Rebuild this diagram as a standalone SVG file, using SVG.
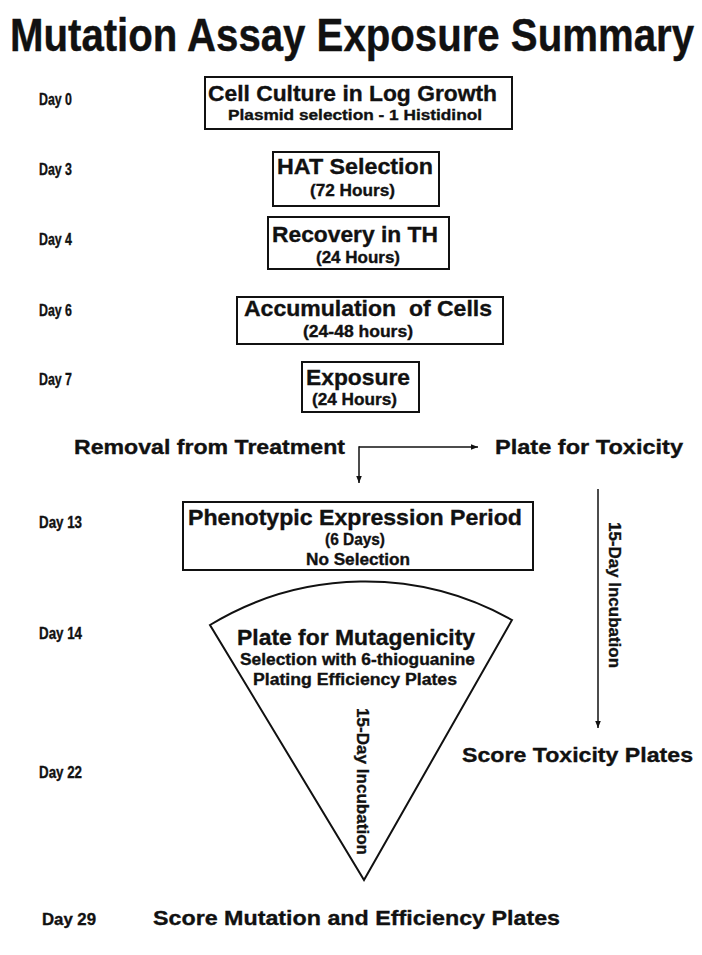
<svg xmlns="http://www.w3.org/2000/svg" width="702" height="955" viewBox="0 0 702 955" font-family="'Liberation Sans', Arial, sans-serif">
<defs>
<style>
text{font-family:"Liberation Sans",Arial,sans-serif;font-weight:bold;fill:#111;stroke:#111;stroke-width:0.35}
.box{fill:none;stroke:#111;stroke-width:2}
.ln{fill:none;stroke:#111;stroke-width:1.5}
.day{font-size:16px}
.h1{font-size:22px}
.h2{font-size:16px}
.big{font-size:21px}
</style>
<marker id="ah" viewBox="0 0 10 10" refX="10" refY="5" markerWidth="7" markerHeight="7" markerUnits="userSpaceOnUse" orient="auto">
<path d="M0,1 L10,5 L0,9 Z" fill="#111"/>
</marker>
</defs>
<rect width="702" height="955" fill="#fff"/>
<text transform="translate(10,51) scale(1,1.15)" x="0" y="0" font-size="40" textLength="684" lengthAdjust="spacingAndGlyphs">Mutation Assay Exposure Summary</text>

<g id="days">
<text class="day" x="39" y="105" textLength="33" lengthAdjust="spacingAndGlyphs">Day 0</text>
<text class="day" x="39" y="175" textLength="33" lengthAdjust="spacingAndGlyphs">Day 3</text>
<text class="day" x="39" y="245" textLength="33" lengthAdjust="spacingAndGlyphs">Day 4</text>
<text class="day" x="39" y="316" textLength="33" lengthAdjust="spacingAndGlyphs">Day 6</text>
<text class="day" x="39" y="385" textLength="33" lengthAdjust="spacingAndGlyphs">Day 7</text>
<text class="day" x="39" y="528" textLength="43" lengthAdjust="spacingAndGlyphs">Day 13</text>
<text class="day" x="39" y="639" textLength="43" lengthAdjust="spacingAndGlyphs">Day 14</text>
<text class="day" x="39" y="778" textLength="43" lengthAdjust="spacingAndGlyphs">Day 22</text>
<text class="day" x="42" y="925" textLength="54" lengthAdjust="spacingAndGlyphs">Day 29</text>
</g>

<g id="n-culture">
<rect class="box" x="205" y="77" width="307" height="52"/>
<text class="h1" x="208" y="101" textLength="289" lengthAdjust="spacingAndGlyphs">Cell Culture in Log Growth</text>
<text class="h2" x="228" y="120" font-size="15" style="font-size:15px" textLength="254" lengthAdjust="spacingAndGlyphs">Plasmid selection - 1 Histidinol</text>
</g>

<g id="n-hat">
<rect class="box" x="273" y="152" width="166" height="54"/>
<text class="h1" x="277" y="174" textLength="156" lengthAdjust="spacingAndGlyphs">HAT Selection</text>
<text class="h2" x="310" y="196" textLength="85" lengthAdjust="spacingAndGlyphs">(72 Hours)</text>
</g>

<g id="n-recovery">
<rect class="box" x="268" y="217" width="181" height="52"/>
<text class="h1" x="272" y="242" textLength="166" lengthAdjust="spacingAndGlyphs">Recovery in TH</text>
<text class="h2" x="316" y="263" textLength="84" lengthAdjust="spacingAndGlyphs">(24 Hours)</text>
</g>

<g id="n-accum">
<rect class="box" x="237" y="297" width="266" height="47"/>
<text class="h1" x="244" y="316" textLength="248" lengthAdjust="spacingAndGlyphs" xml:space="preserve">Accumulation  of Cells</text>
<text class="h2" x="303" y="337" textLength="110" lengthAdjust="spacingAndGlyphs">(24-48 hours)</text>
</g>

<g id="n-exposure">
<rect class="box" x="302" y="362" width="117" height="50"/>
<text class="h1" x="306" y="385" textLength="104" lengthAdjust="spacingAndGlyphs">Exposure</text>
<text class="h2" x="312" y="405" textLength="85" lengthAdjust="spacingAndGlyphs">(24 Hours)</text>
</g>

<g id="n-removal">
<text class="big" x="74" y="454" textLength="271" lengthAdjust="spacingAndGlyphs">Removal from Treatment</text>
</g>

<g id="n-platetox">
<text class="big" x="495" y="454" textLength="188" lengthAdjust="spacingAndGlyphs">Plate for Toxicity</text>
</g>

<g id="n-pheno">
<rect class="box" x="183" y="502" width="350" height="68"/>
<text class="h1" x="188" y="525" textLength="334" lengthAdjust="spacingAndGlyphs">Phenotypic Expression Period</text>
<text class="h2" x="325" y="545" textLength="60" lengthAdjust="spacingAndGlyphs">(6 Days)</text>
<text class="h2" x="306" y="565" textLength="104" lengthAdjust="spacingAndGlyphs">No Selection</text>
</g>

<g id="n-mutagenicity">
<path class="box" d="M210,625 A299,299 0 0 1 512,620 L364,880 Z"/>
<text class="h1" x="237" y="645" textLength="238" lengthAdjust="spacingAndGlyphs">Plate for Mutagenicity</text>
<text class="h2" x="240" y="665" textLength="235" lengthAdjust="spacingAndGlyphs">Selection with 6-thioguanine</text>
<text class="h2" x="253" y="685" textLength="204" lengthAdjust="spacingAndGlyphs">Plating Efficiency Plates</text>
<text transform="translate(357,708) rotate(90)" x="0" y="0" font-size="17" textLength="147" lengthAdjust="spacingAndGlyphs">15-Day Incubation</text>
</g>

<g id="n-scoretox">
<text class="big" x="462" y="762" textLength="231" lengthAdjust="spacingAndGlyphs">Score Toxicity Plates</text>
</g>

<g id="n-scoremut">
<text class="big" x="153" y="925" textLength="407" lengthAdjust="spacingAndGlyphs">Score Mutation and Efficiency Plates</text>
</g>

<g id="connectors">
<path class="ln" d="M359,447 L478,447" marker-end="url(#ah)"/>
<path class="ln" d="M359,446.25 L359,483" marker-end="url(#ah)"/>
<path class="ln" d="M598,489 L598,728" marker-end="url(#ah)"/>
<text transform="translate(609,522) rotate(90)" x="0" y="0" font-size="17" textLength="146" lengthAdjust="spacingAndGlyphs">15-Day Incubation</text>
</g>
</svg>
